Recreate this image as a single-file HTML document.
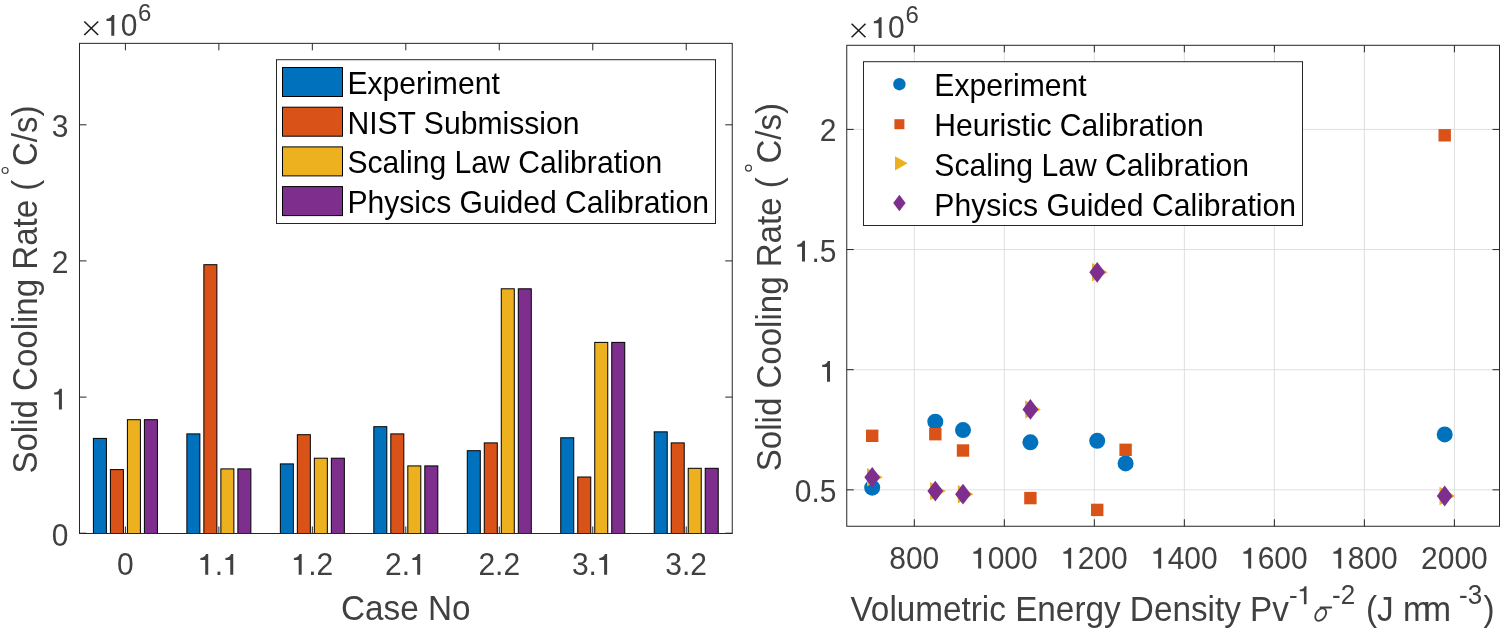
<!DOCTYPE html>
<html><head><meta charset="utf-8"><style>
html,body{margin:0;padding:0;background:#fff;}
svg{display:block;will-change:transform;}
text{font-family:"Liberation Sans", sans-serif;}
.t{font-size:30px;fill:#404040;}
.l{font-size:33.3px;fill:#404040;}
.s{font-size:26px;fill:#404040;}
.sg{font-family:"Liberation Serif",serif;font-style:italic;font-size:33px;fill:#404040;}
.g{font-size:30.13px;fill:#000;}
</style></head><body>
<svg width="1500" height="637" viewBox="0 0 1500 637">
<rect width="1500" height="637" fill="#fff"/>
<rect x="79.5" y="43.35" width="652.75" height="490.15" fill="#fff"/>
<line x1="125.40" y1="533.5" x2="125.40" y2="526.5" stroke="#262626" stroke-width="1"/>
<line x1="125.40" y1="43.35" x2="125.40" y2="50.35" stroke="#262626" stroke-width="1"/>
<line x1="218.87" y1="533.5" x2="218.87" y2="526.5" stroke="#262626" stroke-width="1"/>
<line x1="218.87" y1="43.35" x2="218.87" y2="50.35" stroke="#262626" stroke-width="1"/>
<line x1="312.34" y1="533.5" x2="312.34" y2="526.5" stroke="#262626" stroke-width="1"/>
<line x1="312.34" y1="43.35" x2="312.34" y2="50.35" stroke="#262626" stroke-width="1"/>
<line x1="405.81" y1="533.5" x2="405.81" y2="526.5" stroke="#262626" stroke-width="1"/>
<line x1="405.81" y1="43.35" x2="405.81" y2="50.35" stroke="#262626" stroke-width="1"/>
<line x1="499.28" y1="533.5" x2="499.28" y2="526.5" stroke="#262626" stroke-width="1"/>
<line x1="499.28" y1="43.35" x2="499.28" y2="50.35" stroke="#262626" stroke-width="1"/>
<line x1="592.75" y1="533.5" x2="592.75" y2="526.5" stroke="#262626" stroke-width="1"/>
<line x1="592.75" y1="43.35" x2="592.75" y2="50.35" stroke="#262626" stroke-width="1"/>
<line x1="686.22" y1="533.5" x2="686.22" y2="526.5" stroke="#262626" stroke-width="1"/>
<line x1="686.22" y1="43.35" x2="686.22" y2="50.35" stroke="#262626" stroke-width="1"/>
<rect x="93.40" y="438.40" width="13.00" height="95.10" fill="#0072BD" stroke="#000" stroke-width="1"/>
<rect x="110.40" y="469.60" width="13.00" height="63.90" fill="#D95319" stroke="#000" stroke-width="1"/>
<rect x="127.40" y="419.70" width="13.00" height="113.80" fill="#EDB120" stroke="#000" stroke-width="1"/>
<rect x="144.40" y="419.70" width="13.00" height="113.80" fill="#7E2F8E" stroke="#000" stroke-width="1"/>
<rect x="186.87" y="433.90" width="13.00" height="99.60" fill="#0072BD" stroke="#000" stroke-width="1"/>
<rect x="203.87" y="264.70" width="13.00" height="268.80" fill="#D95319" stroke="#000" stroke-width="1"/>
<rect x="220.87" y="468.90" width="13.00" height="64.60" fill="#EDB120" stroke="#000" stroke-width="1"/>
<rect x="237.87" y="468.90" width="13.00" height="64.60" fill="#7E2F8E" stroke="#000" stroke-width="1"/>
<rect x="280.34" y="463.90" width="13.00" height="69.60" fill="#0072BD" stroke="#000" stroke-width="1"/>
<rect x="297.34" y="434.70" width="13.00" height="98.80" fill="#D95319" stroke="#000" stroke-width="1"/>
<rect x="314.34" y="458.20" width="13.00" height="75.30" fill="#EDB120" stroke="#000" stroke-width="1"/>
<rect x="331.34" y="458.20" width="13.00" height="75.30" fill="#7E2F8E" stroke="#000" stroke-width="1"/>
<rect x="373.81" y="426.70" width="13.00" height="106.80" fill="#0072BD" stroke="#000" stroke-width="1"/>
<rect x="390.81" y="433.90" width="13.00" height="99.60" fill="#D95319" stroke="#000" stroke-width="1"/>
<rect x="407.81" y="465.90" width="13.00" height="67.60" fill="#EDB120" stroke="#000" stroke-width="1"/>
<rect x="424.81" y="465.90" width="13.00" height="67.60" fill="#7E2F8E" stroke="#000" stroke-width="1"/>
<rect x="467.28" y="450.70" width="13.00" height="82.80" fill="#0072BD" stroke="#000" stroke-width="1"/>
<rect x="484.28" y="442.90" width="13.00" height="90.60" fill="#D95319" stroke="#000" stroke-width="1"/>
<rect x="501.28" y="288.80" width="13.00" height="244.70" fill="#EDB120" stroke="#000" stroke-width="1"/>
<rect x="518.28" y="288.80" width="13.00" height="244.70" fill="#7E2F8E" stroke="#000" stroke-width="1"/>
<rect x="560.75" y="437.80" width="13.00" height="95.70" fill="#0072BD" stroke="#000" stroke-width="1"/>
<rect x="577.75" y="477.00" width="13.00" height="56.50" fill="#D95319" stroke="#000" stroke-width="1"/>
<rect x="594.75" y="342.40" width="13.00" height="191.10" fill="#EDB120" stroke="#000" stroke-width="1"/>
<rect x="611.75" y="342.40" width="13.00" height="191.10" fill="#7E2F8E" stroke="#000" stroke-width="1"/>
<rect x="654.22" y="431.85" width="13.00" height="101.65" fill="#0072BD" stroke="#000" stroke-width="1"/>
<rect x="671.22" y="442.90" width="13.00" height="90.60" fill="#D95319" stroke="#000" stroke-width="1"/>
<rect x="688.22" y="468.30" width="13.00" height="65.20" fill="#EDB120" stroke="#000" stroke-width="1"/>
<rect x="705.22" y="468.30" width="13.00" height="65.20" fill="#7E2F8E" stroke="#000" stroke-width="1"/>
<line x1="79.5" y1="533.20" x2="86.5" y2="533.20" stroke="#262626" stroke-width="1"/>
<line x1="732.25" y1="533.20" x2="725.25" y2="533.20" stroke="#262626" stroke-width="1"/>
<line x1="79.5" y1="397.10" x2="86.5" y2="397.10" stroke="#262626" stroke-width="1"/>
<line x1="732.25" y1="397.10" x2="725.25" y2="397.10" stroke="#262626" stroke-width="1"/>
<line x1="79.5" y1="260.90" x2="86.5" y2="260.90" stroke="#262626" stroke-width="1"/>
<line x1="732.25" y1="260.90" x2="725.25" y2="260.90" stroke="#262626" stroke-width="1"/>
<line x1="79.5" y1="124.80" x2="86.5" y2="124.80" stroke="#262626" stroke-width="1"/>
<line x1="732.25" y1="124.80" x2="725.25" y2="124.80" stroke="#262626" stroke-width="1"/>
<rect x="79.5" y="43.35" width="652.75" height="490.15" fill="none" stroke="#262626" stroke-width="1"/>
<text transform="translate(51.72,545.50) scale(1,1.025)" class="t" style="font-size:30px">0</text>
<path d="M340,0 L340,692 L266,692 C252,628 200,575 80,562 L80,494 L240,494 L240,0 Z" transform="translate(51.72,409.40) scale(0.0300,-0.0300)" fill="#404040"/>
<text transform="translate(51.72,273.20) scale(1,1.025)" class="t" style="font-size:30px">2</text>
<text transform="translate(51.72,137.10) scale(1,1.025)" class="t" style="font-size:30px">3</text>
<text transform="translate(117.06,574.80) scale(1,1.025)" class="t" style="font-size:30px">0</text>
<path d="M340,0 L340,692 L266,692 C252,628 200,575 80,562 L80,494 L240,494 L240,0 Z" transform="translate(198.02,574.80) scale(0.0300,-0.0300)" fill="#404040"/>
<text transform="translate(214.70,574.80) scale(1,1.025)" class="t" style="font-size:30px">.</text>
<path d="M340,0 L340,692 L266,692 C252,628 200,575 80,562 L80,494 L240,494 L240,0 Z" transform="translate(223.04,574.80) scale(0.0300,-0.0300)" fill="#404040"/>
<path d="M340,0 L340,692 L266,692 C252,628 200,575 80,562 L80,494 L240,494 L240,0 Z" transform="translate(291.49,574.80) scale(0.0300,-0.0300)" fill="#404040"/>
<text transform="translate(308.17,574.80) scale(1,1.025)" class="t" style="font-size:30px">.2</text>
<text transform="translate(384.96,574.80) scale(1,1.025)" class="t" style="font-size:30px">2.</text>
<path d="M340,0 L340,692 L266,692 C252,628 200,575 80,562 L80,494 L240,494 L240,0 Z" transform="translate(409.98,574.80) scale(0.0300,-0.0300)" fill="#404040"/>
<text transform="translate(478.43,574.80) scale(1,1.025)" class="t" style="font-size:30px">2.2</text>
<text transform="translate(571.90,574.80) scale(1,1.025)" class="t" style="font-size:30px">3.</text>
<path d="M340,0 L340,692 L266,692 C252,628 200,575 80,562 L80,494 L240,494 L240,0 Z" transform="translate(596.92,574.80) scale(0.0300,-0.0300)" fill="#404040"/>
<text transform="translate(665.37,574.80) scale(1,1.025)" class="t" style="font-size:30px">3.2</text>
<text transform="translate(405.80,619.50) scale(1,1.035)" text-anchor="middle" class="l">Case No</text>
<text transform="translate(37.30,473.60) rotate(-90) scale(1,1.035)" class="l" style="font-size:33.05px">Solid Cooling Rate (</text>
<text transform="translate(37.30,166.00) rotate(-90) scale(1,1.035)" class="l" style="font-size:33.05px">C/s)</text>
<circle cx="5.1" cy="170.5" r="3.0" fill="none" stroke="#404040" stroke-width="1.2"/>
<line x1="84.3" y1="21.500000000000004" x2="98.19999999999999" y2="35.0" stroke="#1c1c1c" stroke-width="1.55"/>
<line x1="98.19999999999999" y1="21.500000000000004" x2="84.3" y2="35.0" stroke="#1c1c1c" stroke-width="1.55"/>
<path d="M340,0 L340,692 L266,692 C252,628 200,575 80,562 L80,494 L240,494 L240,0 Z" transform="translate(104.10,35.70) scale(0.0300,-0.0300)" fill="#404040"/>
<text transform="translate(120.78,35.70) scale(1,1.025)" class="t" style="font-size:30px">0</text>
<text transform="translate(138.10,21.10) scale(1,1.035)" class="t" style="font-size:24px">6</text>
<rect x="276.5" y="59.7" width="439" height="163.8" fill="#fff" stroke="#262626" stroke-width="1"/>
<rect x="282.5" y="67.5" width="60" height="29" fill="#0072BD" stroke="#000" stroke-width="1"/>
<text transform="translate(347.40,94.00) scale(1,1.035)" class="g">Experiment</text>
<rect x="282.5" y="107.2" width="60" height="29" fill="#D95319" stroke="#000" stroke-width="1"/>
<text transform="translate(347.40,133.70) scale(1,1.035)" class="g">NIST Submission</text>
<rect x="282.5" y="146.9" width="60" height="29" fill="#EDB120" stroke="#000" stroke-width="1"/>
<text transform="translate(347.40,173.40) scale(1,1.035)" class="g">Scaling Law Calibration</text>
<rect x="282.5" y="186.6" width="60" height="29" fill="#7E2F8E" stroke="#000" stroke-width="1"/>
<text transform="translate(347.40,213.10) scale(1,1.035)" class="g">Physics Guided Calibration</text>
<rect x="846.75" y="45.3" width="652.75" height="480.95" fill="#fff"/>
<line x1="914.30" y1="45.3" x2="914.30" y2="526.25" stroke="#dfdfdf" stroke-width="1"/>
<line x1="1004.32" y1="45.3" x2="1004.32" y2="526.25" stroke="#dfdfdf" stroke-width="1"/>
<line x1="1094.33" y1="45.3" x2="1094.33" y2="526.25" stroke="#dfdfdf" stroke-width="1"/>
<line x1="1184.35" y1="45.3" x2="1184.35" y2="526.25" stroke="#dfdfdf" stroke-width="1"/>
<line x1="1274.36" y1="45.3" x2="1274.36" y2="526.25" stroke="#dfdfdf" stroke-width="1"/>
<line x1="1364.38" y1="45.3" x2="1364.38" y2="526.25" stroke="#dfdfdf" stroke-width="1"/>
<line x1="1454.40" y1="45.3" x2="1454.40" y2="526.25" stroke="#dfdfdf" stroke-width="1"/>
<line x1="846.75" y1="489.85" x2="1499.5" y2="489.85" stroke="#dfdfdf" stroke-width="1"/>
<line x1="846.75" y1="369.70" x2="1499.5" y2="369.70" stroke="#dfdfdf" stroke-width="1"/>
<line x1="846.75" y1="249.55" x2="1499.5" y2="249.55" stroke="#dfdfdf" stroke-width="1"/>
<line x1="846.75" y1="129.40" x2="1499.5" y2="129.40" stroke="#dfdfdf" stroke-width="1"/>
<circle cx="872.2" cy="487.7" r="8" fill="#0072BD"/>
<circle cx="935.3" cy="421.7" r="8" fill="#0072BD"/>
<circle cx="963.0" cy="430.1" r="8" fill="#0072BD"/>
<circle cx="1030.4" cy="442.3" r="8" fill="#0072BD"/>
<circle cx="1097.2" cy="440.8" r="8" fill="#0072BD"/>
<circle cx="1125.6" cy="463.4" r="8" fill="#0072BD"/>
<circle cx="1444.7" cy="434.4" r="8" fill="#0072BD"/>
<rect x="866.00" y="429.60" width="12.40" height="12.40" fill="#D95319"/>
<rect x="929.10" y="428.00" width="12.40" height="12.40" fill="#D95319"/>
<rect x="956.80" y="444.30" width="12.40" height="12.40" fill="#D95319"/>
<rect x="1024.20" y="491.90" width="12.40" height="12.40" fill="#D95319"/>
<rect x="1091.00" y="503.70" width="12.40" height="12.40" fill="#D95319"/>
<rect x="1119.40" y="443.60" width="12.40" height="12.40" fill="#D95319"/>
<rect x="1438.50" y="129.10" width="12.40" height="12.40" fill="#D95319"/>
<path d="M867.00,468.10 L882.70,477.30 L867.00,486.50 Z" fill="#EDB120"/>
<path d="M930.10,481.90 L945.80,491.10 L930.10,500.30 Z" fill="#EDB120"/>
<path d="M957.80,485.00 L973.50,494.20 L957.80,503.40 Z" fill="#EDB120"/>
<path d="M1025.20,400.20 L1040.90,409.40 L1025.20,418.60 Z" fill="#EDB120"/>
<path d="M1092.00,263.10 L1107.70,272.30 L1092.00,281.50 Z" fill="#EDB120"/>
<path d="M1120.40,170.50 L1136.10,179.70 L1120.40,188.90 Z" fill="#EDB120"/>
<path d="M1439.50,486.80 L1455.20,496.00 L1439.50,505.20 Z" fill="#EDB120"/>
<path d="M872.20,466.90 L880.10,477.30 L872.20,487.70 L864.30,477.30 Z" fill="#7E2F8E"/>
<path d="M935.30,480.70 L943.20,491.10 L935.30,501.50 L927.40,491.10 Z" fill="#7E2F8E"/>
<path d="M963.00,483.80 L970.90,494.20 L963.00,504.60 L955.10,494.20 Z" fill="#7E2F8E"/>
<path d="M1030.40,399.00 L1038.30,409.40 L1030.40,419.80 L1022.50,409.40 Z" fill="#7E2F8E"/>
<path d="M1097.20,261.90 L1105.10,272.30 L1097.20,282.70 L1089.30,272.30 Z" fill="#7E2F8E"/>
<path d="M1125.60,169.30 L1133.50,179.70 L1125.60,190.10 L1117.70,179.70 Z" fill="#7E2F8E"/>
<path d="M1444.70,485.60 L1452.60,496.00 L1444.70,506.40 L1436.80,496.00 Z" fill="#7E2F8E"/>
<line x1="914.30" y1="526.25" x2="914.30" y2="519.25" stroke="#262626" stroke-width="1"/>
<line x1="914.30" y1="45.3" x2="914.30" y2="52.3" stroke="#262626" stroke-width="1"/>
<line x1="1004.32" y1="526.25" x2="1004.32" y2="519.25" stroke="#262626" stroke-width="1"/>
<line x1="1004.32" y1="45.3" x2="1004.32" y2="52.3" stroke="#262626" stroke-width="1"/>
<line x1="1094.33" y1="526.25" x2="1094.33" y2="519.25" stroke="#262626" stroke-width="1"/>
<line x1="1094.33" y1="45.3" x2="1094.33" y2="52.3" stroke="#262626" stroke-width="1"/>
<line x1="1184.35" y1="526.25" x2="1184.35" y2="519.25" stroke="#262626" stroke-width="1"/>
<line x1="1184.35" y1="45.3" x2="1184.35" y2="52.3" stroke="#262626" stroke-width="1"/>
<line x1="1274.36" y1="526.25" x2="1274.36" y2="519.25" stroke="#262626" stroke-width="1"/>
<line x1="1274.36" y1="45.3" x2="1274.36" y2="52.3" stroke="#262626" stroke-width="1"/>
<line x1="1364.38" y1="526.25" x2="1364.38" y2="519.25" stroke="#262626" stroke-width="1"/>
<line x1="1364.38" y1="45.3" x2="1364.38" y2="52.3" stroke="#262626" stroke-width="1"/>
<line x1="1454.40" y1="526.25" x2="1454.40" y2="519.25" stroke="#262626" stroke-width="1"/>
<line x1="1454.40" y1="45.3" x2="1454.40" y2="52.3" stroke="#262626" stroke-width="1"/>
<line x1="846.75" y1="489.85" x2="853.75" y2="489.85" stroke="#262626" stroke-width="1"/>
<line x1="1499.5" y1="489.85" x2="1492.5" y2="489.85" stroke="#262626" stroke-width="1"/>
<line x1="846.75" y1="369.70" x2="853.75" y2="369.70" stroke="#262626" stroke-width="1"/>
<line x1="1499.5" y1="369.70" x2="1492.5" y2="369.70" stroke="#262626" stroke-width="1"/>
<line x1="846.75" y1="249.55" x2="853.75" y2="249.55" stroke="#262626" stroke-width="1"/>
<line x1="1499.5" y1="249.55" x2="1492.5" y2="249.55" stroke="#262626" stroke-width="1"/>
<line x1="846.75" y1="129.40" x2="853.75" y2="129.40" stroke="#262626" stroke-width="1"/>
<line x1="1499.5" y1="129.40" x2="1492.5" y2="129.40" stroke="#262626" stroke-width="1"/>
<rect x="846.75" y="45.3" width="652.75" height="480.95" fill="none" stroke="#262626" stroke-width="1"/>
<text transform="translate(889.27,568.50) scale(1,1.025)" class="t" style="font-size:30px">800</text>
<path d="M340,0 L340,692 L266,692 C252,628 200,575 80,562 L80,494 L240,494 L240,0 Z" transform="translate(970.95,568.50) scale(0.0300,-0.0300)" fill="#404040"/>
<text transform="translate(987.63,568.50) scale(1,1.025)" class="t" style="font-size:30px">000</text>
<path d="M340,0 L340,692 L266,692 C252,628 200,575 80,562 L80,494 L240,494 L240,0 Z" transform="translate(1060.96,568.50) scale(0.0300,-0.0300)" fill="#404040"/>
<text transform="translate(1077.65,568.50) scale(1,1.025)" class="t" style="font-size:30px">200</text>
<path d="M340,0 L340,692 L266,692 C252,628 200,575 80,562 L80,494 L240,494 L240,0 Z" transform="translate(1150.98,568.50) scale(0.0300,-0.0300)" fill="#404040"/>
<text transform="translate(1167.66,568.50) scale(1,1.025)" class="t" style="font-size:30px">400</text>
<path d="M340,0 L340,692 L266,692 C252,628 200,575 80,562 L80,494 L240,494 L240,0 Z" transform="translate(1240.99,568.50) scale(0.0300,-0.0300)" fill="#404040"/>
<text transform="translate(1257.68,568.50) scale(1,1.025)" class="t" style="font-size:30px">600</text>
<path d="M340,0 L340,692 L266,692 C252,628 200,575 80,562 L80,494 L240,494 L240,0 Z" transform="translate(1331.01,568.50) scale(0.0300,-0.0300)" fill="#404040"/>
<text transform="translate(1347.70,568.50) scale(1,1.025)" class="t" style="font-size:30px">800</text>
<text transform="translate(1421.03,568.50) scale(1,1.025)" class="t" style="font-size:30px">2000</text>
<text transform="translate(794.80,501.85) scale(1,1.025)" class="t" style="font-size:30px">0.5</text>
<path d="M340,0 L340,692 L266,692 C252,628 200,575 80,562 L80,494 L240,494 L240,0 Z" transform="translate(819.82,381.70) scale(0.0300,-0.0300)" fill="#404040"/>
<path d="M340,0 L340,692 L266,692 C252,628 200,575 80,562 L80,494 L240,494 L240,0 Z" transform="translate(794.80,261.55) scale(0.0300,-0.0300)" fill="#404040"/>
<text transform="translate(811.48,261.55) scale(1,1.025)" class="t" style="font-size:30px">.5</text>
<text transform="translate(819.82,141.40) scale(1,1.025)" class="t" style="font-size:30px">2</text>
<line x1="851.6" y1="23.8" x2="865.5" y2="37.3" stroke="#1c1c1c" stroke-width="1.55"/>
<line x1="865.5" y1="23.8" x2="851.6" y2="37.3" stroke="#1c1c1c" stroke-width="1.55"/>
<path d="M340,0 L340,692 L266,692 C252,628 200,575 80,562 L80,494 L240,494 L240,0 Z" transform="translate(871.40,38.00) scale(0.0300,-0.0300)" fill="#404040"/>
<text transform="translate(888.08,38.00) scale(1,1.025)" class="t" style="font-size:30px">0</text>
<text transform="translate(905.40,23.40) scale(1,1.035)" class="t" style="font-size:24px">6</text>
<text transform="translate(780.80,471.20) rotate(-90) scale(1,1.035)" class="l" style="font-size:33.05px">Solid Cooling Rate (</text>
<text transform="translate(780.80,163.60) rotate(-90) scale(1,1.035)" class="l" style="font-size:33.05px">C/s)</text>
<circle cx="748.5" cy="168.1" r="3.0" fill="none" stroke="#404040" stroke-width="1.2"/>
<text transform="translate(850.50,621.10) scale(1,1.035)" class="l">Volumetric Energy Density Pv</text>
<text transform="translate(1289.00,604.20) scale(1,1.025)" class="s" style="font-size:26px">-</text>
<path d="M340,0 L340,692 L266,692 C252,628 200,575 80,562 L80,494 L240,494 L240,0 Z" transform="translate(1297.66,604.20) scale(0.0260,-0.0260)" fill="#404040"/>
<ellipse cx="1320.7" cy="614.6" rx="6.9" ry="4.6" transform="rotate(-55 1320.7 614.6)" fill="none" stroke="#404040" stroke-width="1.9"/>
<path d="M1320.5,607.6 L1331.2,607.6" stroke="#404040" stroke-width="2" stroke-linecap="round"/>
<text transform="translate(1332.00,604.20) scale(1,1.035)" class="s">-2</text>
<text transform="translate(1366.00,621.10) scale(1,1.035)" class="l">(J <tspan style="letter-spacing:-7.5px">mm</tspan></text>
<text transform="translate(1459.00,604.20) scale(1,1.035)" class="s">-3</text>
<text transform="translate(1483.50,621.10) scale(1,1.035)" class="l">)</text>
<rect x="863.5" y="61.7" width="439" height="163.8" fill="#fff" stroke="#262626" stroke-width="1"/>
<circle cx="899.4" cy="84.2" r="6.2" fill="#0072BD"/>
<rect x="894.40" y="119.20" width="10.00" height="10.00" fill="#D95319"/>
<path d="M895.00,156.15 L907.70,163.30 L895.00,170.45 Z" fill="#EDB120"/>
<path d="M899.40,194.85 L905.60,203.00 L899.40,211.15 L893.20,203.00 Z" fill="#7E2F8E"/>
<text transform="translate(934.30,96.10) scale(1,1.035)" class="g">Experiment</text>
<text transform="translate(934.30,135.90) scale(1,1.035)" class="g">Heuristic Calibration</text>
<text transform="translate(934.30,175.70) scale(1,1.035)" class="g">Scaling Law Calibration</text>
<text transform="translate(934.30,215.50) scale(1,1.035)" class="g">Physics Guided Calibration</text>
</svg></body></html>
